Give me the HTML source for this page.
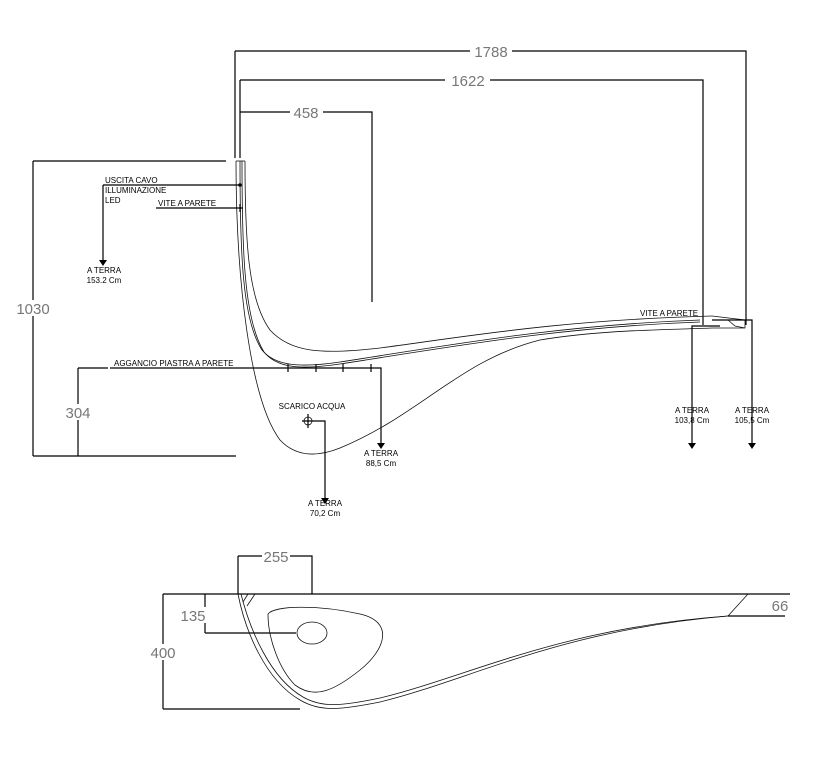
<!DOCTYPE html>
<html><head><meta charset="utf-8"><style>
html,body{margin:0;padding:0;background:#fff;}
svg{display:block;}
.l{stroke:#000;stroke-width:1.2;fill:none}
.t{stroke:#111;stroke-width:0.8;fill:none}
.d{font-family:"Liberation Sans",sans-serif;fill:#777;font-size:15px}
.s{font-family:"Liberation Sans",sans-serif;fill:#000;font-size:8px}
</style></head><body>
<svg width="813" height="765" viewBox="0 0 813 765" xmlns="http://www.w3.org/2000/svg">
<!-- top dims -->
<path class="l" d="M235 51H470M512 51H746V325M235 51V158M240 80H445M490 80H703V325M240 80V158M240 112H290M323 112H372V302"/>
<text class="d" x="491" y="57" text-anchor="middle">1788</text>
<text class="d" x="468" y="86" text-anchor="middle">1622</text>
<text class="d" x="306" y="118" text-anchor="middle">458</text>
<!-- 1030 / 304 -->
<path class="l" d="M33 161H226M33 161V456M33 456H236M78 368V456M78 368H108M110 368H381V445"/>
<rect x="15" y="300" width="36" height="16" fill="#fff"/>
<rect x="64" y="404" width="28" height="16" fill="#fff"/>
<text class="d" x="33" y="314" text-anchor="middle">1030</text>
<text class="d" x="78" y="418" text-anchor="middle">304</text>
<path class="l" d="M288 364v8M316 364v8M343 364v8M371 364v8"/>
<text class="s" x="114" y="366">AGGANCIO PIASTRA A PARETE</text>
<!-- wall shape -->
<path class="t" d="M236 161H245"/>
<path class="t" d="M245 161C245 240 248 300 270 330C290 352 320 355 380 348C470 336 560 320 712 316"/>
<path class="t" d="M240 161C240 250 242 320 262 350C275 366 300 368 340 362C450 345 560 325 700 320"/>
<path class="t" d="M242 161C242 250 244 320 264 352C277 368 300 370 340 364C450 347 560 327 700 322"/>
<path class="t" d="M236 161C236 280 250 400 280 440C295 456 315 458 340 448C420 415 460 360 540 340C600 330 660 330 712 328"/>
<path class="t" d="M712 316L745 320L745 328L712 328M728 320L735 326L745 328"/>
<path class="l" d="M692 445V326H720M752 445V320H712"/>
<text class="s" x="640" y="316">VITE A PARETE</text>
<!-- left labels -->
<path class="l" d="M103 185H240M103 185V262M156 208H243M240 204v8"/>
<circle cx="240" cy="185" r="1.8" fill="#000"/>
<text class="s" x="105" y="183">USCITA CAVO</text>
<text class="s" x="105" y="193">ILLUMINAZIONE</text>
<text class="s" x="105" y="203">LED</text>
<text class="s" x="158" y="206">VITE A PARETE</text>
<text class="s" x="104" y="273" text-anchor="middle">A TERRA</text>
<text class="s" x="104" y="283" text-anchor="middle">153.2 Cm</text>
<!-- scarico -->
<text class="s" x="312" y="409" text-anchor="middle">SCARICO ACQUA</text>
<circle class="t" cx="308" cy="421" r="4"/>
<path class="l" d="M302 421H325V500M308 414V428"/>
<text class="s" x="325" y="506" text-anchor="middle">A TERRA</text>
<text class="s" x="325" y="516" text-anchor="middle">70,2 Cm</text>
<text class="s" x="381" y="456" text-anchor="middle">A TERRA</text>
<text class="s" x="381" y="466" text-anchor="middle">88,5 Cm</text>
<text class="s" x="692" y="413" text-anchor="middle">A TERRA</text>
<text class="s" x="692" y="423" text-anchor="middle">103,8 Cm</text>
<text class="s" x="752" y="413" text-anchor="middle">A TERRA</text>
<text class="s" x="752" y="423" text-anchor="middle">105,5 Cm</text>
<!-- arrowheads -->
<path d="M99 260h8l-4 6z M377 443h8l-4 6z M321 498h8l-4 6z M688 443h8l-4 6z M748 443h8l-4 6z" fill="#000"/>
<!-- bottom view -->
<path class="l" d="M163 594H790M163 594V709M163 709H300M205 594V633M205 633H296M238 556V594M238 556H262M290 556H312V594M750 594H785M728 616H785"/>
<rect x="149" y="644" width="28" height="16" fill="#fff"/>
<rect x="180" y="607" width="28" height="16" fill="#fff"/>
<text class="d" x="276" y="562" text-anchor="middle">255</text>
<text class="d" x="193" y="621" text-anchor="middle">135</text>
<text class="d" x="163" y="658" text-anchor="middle">400</text>
<text class="d" x="780" y="611" text-anchor="middle">66</text>
<path class="t" d="M748 594L728 616"/>
<ellipse class="t" cx="312" cy="633" rx="15" ry="11"/>
<path class="t" d="M268 614C275 605 320 605 360 614C395 622 385 650 360 670C335 690 315 700 295 685C280 670 268 640 268 614Z"/>
<path class="t" d="M238 594C245 630 265 680 300 700C320 712 340 710 380 702C470 680 560 630 728 616"/>
<path class="t" d="M241 594C250 630 270 678 303 697C322 708 342 706 380 698C470 676 560 628 728 616"/>
<path class="t" d="M243 602L248 594M247 606L255 594"/>
</svg>
</body></html>
